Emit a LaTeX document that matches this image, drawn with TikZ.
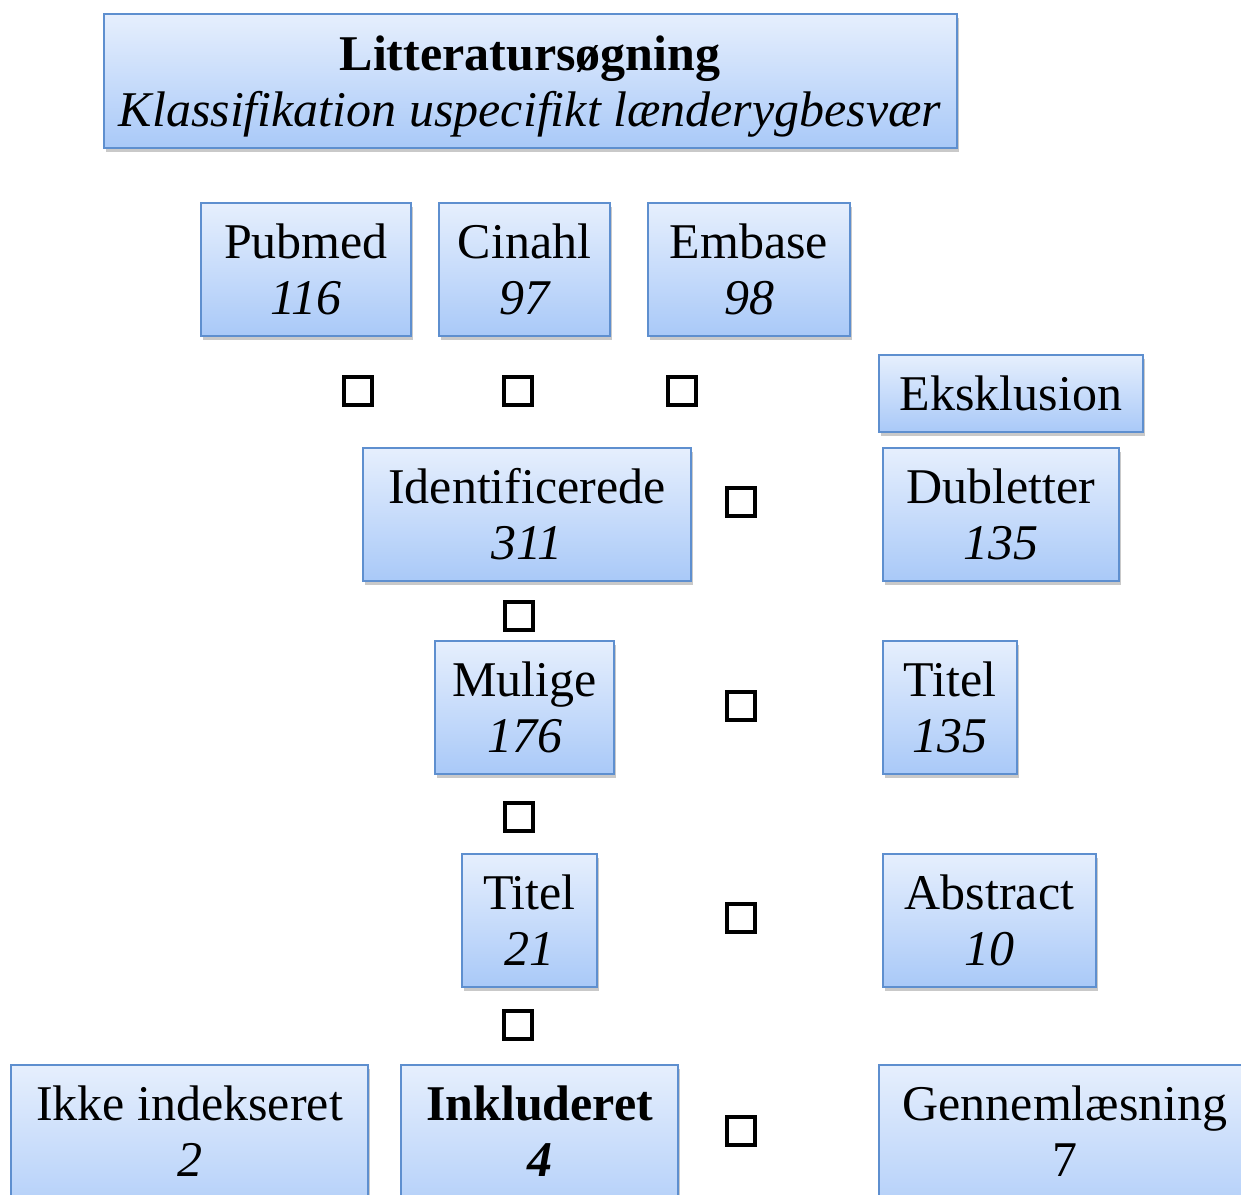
\documentclass[tikz,border=0pt]{standalone}
\usepackage{fontspec}
\setmainfont{Liberation Serif}
\usetikzlibrary{shadows}
\definecolor{boxtop}{HTML}{E6EFFD}
\definecolor{boxbot}{HTML}{A9C9F8}
\definecolor{boxline}{HTML}{5E8FCF}
\tikzset{
  flowbox/.style={draw=boxline, line width=1.6pt, top color=boxtop, bottom color=boxbot,
    inner sep=0pt, outer sep=0pt, rectangle,
    drop shadow={shadow xshift=2pt, shadow yshift=-4pt, opacity=0.35, fill=black!60}},
  boxtext/.style={anchor=base, inner sep=0pt, font=\fontsize{50}{56}\selectfont},
  glyphbox/.style={draw=black, line width=3.6pt, minimum width=28pt, minimum height=28pt, inner sep=0pt}
}
\newcommand{\mybox}[5]{%
  \node[flowbox, minimum width=#4pt-#2pt, minimum height=#5pt-#3pt] (#1) at ({(#2+#4)/2},{(#3+#5)/2}) {};}
\begin{document}
\begin{tikzpicture}[x=1pt,y=-1pt]
\clip (0,0) rectangle (1241,1194);
\fill[white] (0,0) rectangle (1241,1194);
% boxes
\mybox{lit}{104}{14}{957}{148}
\mybox{pub}{201}{203}{411}{336}
\mybox{cin}{439}{203}{610}{336}
\mybox{emb}{648}{203}{850}{336}
\mybox{eks}{879}{355}{1143}{432}
\mybox{ide}{363}{448}{691}{581}
\mybox{dub}{883}{448}{1119}{581}
\mybox{mul}{435}{641}{614}{774}
\mybox{tit}{883}{641}{1017}{774}
\mybox{titb}{462}{854}{597}{987}
\mybox{abs}{883}{854}{1096}{987}
\mybox{ikk}{11}{1065}{368}{1240}
\mybox{ink}{401}{1065}{678}{1240}
\mybox{gen}{879}{1065}{1252}{1240}
% texts
\node[boxtext] (litA) at (530,70) {\bfseries Litteratursøgning};
\node[boxtext] (litB) at (530,126) {\itshape Klassifikation uspecifikt lænderygbesvær};
\node[boxtext] (pubA) at (306,258) {Pubmed};
\node[boxtext] (pubB) at (306,314) {\itshape 116};
\node[boxtext] (cinA) at (524.5,258) {Cinahl};
\node[boxtext] (cinB) at (524.5,314) {\itshape 97};
\node[boxtext] (embA) at (749,258) {Embase};
\node[boxtext] (embB) at (749,314) {\itshape 98};
\node[boxtext] (eksA) at (1011,410) {Eksklusion};
\node[boxtext] (ideA) at (527,503) {Identificerede};
\node[boxtext] (ideB) at (527,559) {\itshape 311};
\node[boxtext] (dubA) at (1001,503) {Dubletter};
\node[boxtext] (dubB) at (1001,559) {\itshape 135};
\node[boxtext] (mulA) at (524.5,696) {Mulige};
\node[boxtext] (mulB) at (524.5,752) {\itshape 176};
\node[boxtext] (titA) at (950,696) {Titel};
\node[boxtext] (titB) at (950,752) {\itshape 135};
\node[boxtext] (titbA) at (529.5,909) {Titel};
\node[boxtext] (titbB) at (529.5,965) {\itshape 21};
\node[boxtext] (absA) at (989.5,909) {Abstract};
\node[boxtext] (absB) at (989.5,965) {\itshape 10};
\node[boxtext] (ikkA) at (189.5,1120) {Ikke indekseret};
\node[boxtext] (ikkB) at (189.5,1176) {\itshape 2};
\node[boxtext] (inkA) at (539.5,1120) {\bfseries Inkluderet};
\node[boxtext] (inkB) at (539.5,1176) {\bfseries\itshape 4};
\node[boxtext] (genA) at (1065,1120) {Gennemlæsning};
\node[boxtext] (genB) at (1065,1176) {7};
% missing-glyph squares
\node[glyphbox] (q1) at (358,391) {};
\node[glyphbox] (q2) at (518,391) {};
\node[glyphbox] (q3) at (682,391) {};
\node[glyphbox] (q4) at (741,502) {};
\node[glyphbox] (q5) at (519,616) {};
\node[glyphbox] (q6) at (741,706) {};
\node[glyphbox] (q7) at (519,817) {};
\node[glyphbox] (q8) at (741,918) {};
\node[glyphbox] (q9) at (518,1025) {};
\node[glyphbox] (q10) at (741,1131) {};
\end{tikzpicture}
\end{document}
